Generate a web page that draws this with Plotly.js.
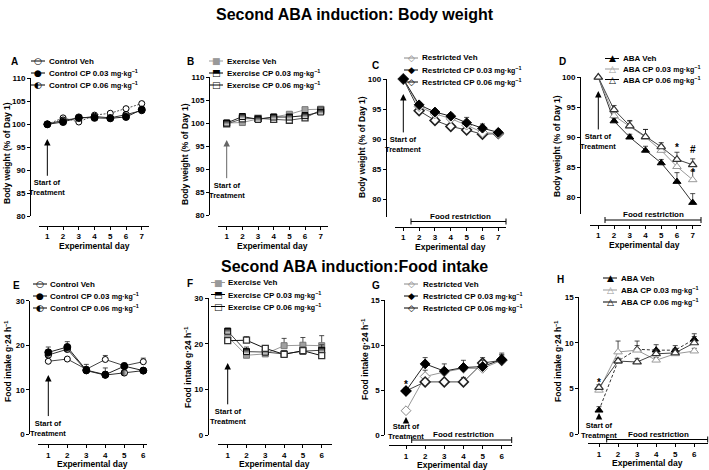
<!DOCTYPE html>
<html><head><meta charset="utf-8">
<script src="https://cdn.plot.ly/plotly-3.0.1.min.js"></script>
<style>html,body{margin:0;padding:0;background:#fff}</style>
</head><body>
<div id="chart" style="width:709px;height:470px"></div>
<script>
// ---------------- DATA ----------------
const daysBW = [1, 2, 3, 4, 5, 6, 7];
const daysFI = [1, 2, 3, 4, 5, 6];
const bwTicksAB = [80, 85, 90, 95, 100, 105, 110];
const bwTicksCD = [80, 85, 90, 95, 100];
const fiTicksEF = [0, 10, 20, 30];
const fiTicksGH = [0, 5, 10, 15];

// Body weight (% of Day 1)
const ctrlVeh    = [100, 101.4, 100.5, 102.0, 102.4, 103.4, 104.5];
const ctrlCP003  = [100, 100.5, 101.5, 101.4, 101.3, 101.6, 103.2];
const ctrlCP006  = [100, 100.9, 101.3, 101.7, 101.4, 102.1, 103.0];
const ctrlVehE   = [0, 0.3, 0.3, 0.3, 0.3, 0.3, 0.4];
const ctrlCP003E = [0, 0.3, 0.3, 0.3, 0.3, 0.3, 0.4];
const ctrlCP006E = [0, 0.3, 0.3, 0.3, 0.3, 0.3, 0.3];

const exVeh      = [100, 100.1, 100.9, 101.3, 101.9, 102.9, 103.0];
const exCP003    = [100, 101.4, 100.8, 101.3, 101.3, 101.6, 102.4];
const exCP006    = [99.8, 100.9, 101.0, 100.8, 100.6, 101.1, 102.8];
const exVehE     = [0, 0.3, 0.3, 0.3, 0.4, 0.4, 0.4];
const exCP003E   = [0, 0.3, 0.3, 0.3, 0.3, 0.3, 0.3];
const exCP006E   = [0, 0.3, 0.3, 0.3, 0.3, 0.3, 0.3];

const resVeh     = [100, 95.4, 94.2, 93.4, 92.3, 91.1, 90.9];
const resCP003   = [100, 95.7, 94.5, 93.8, 92.7, 91.8, 91.1];
const resCP006   = [100, 94.7, 93.1, 92.1, 91.5, 90.8, 90.9];
const resVehE    = [0, 0.3, 0.3, 0.3, 0.5, 0.5, 0.4];
const resCP003E  = [0, 0.3, 0.3, 0.4, 0.9, 0.7, 0.5];
const resCP006E  = [0, 0.3, 0.3, 0.3, 0.3, 0.3, 0.3];

const abaVeh     = [100, 92.7, 90.0, 87.8, 85.7, 82.6, 79.1];
const abaCP003   = [100, 93.6, 91.8, 90.0, 87.8, 85.1, 82.9];
const abaCP006   = [100, 94.6, 91.9, 90.1, 88.4, 86.3, 85.4];
const abaVehE    = [0, 0.4, 0.5, 0.7, 0.6, 1.5, 1.5];
const abaCP003E  = [0, 0.6, 0.9, 1.3, 0.8, 1.3, 1.5];
const abaCP006E  = [0, 0.7, 0.9, 1.2, 0.7, 1.2, 1.0];

// Food intake g·24 h-1
const fCtrlVeh    = [16.4, 16.9, 14.6, 16.8, 15.4, 16.3];
const fCtrlCP003  = [18.4, 19.6, 14.4, 13.4, 15.3, 14.3];
const fCtrlCP006  = [17.8, 19.1, 14.3, 13.3, 13.8, 14.3];
const fCtrlVehE   = [0.3, 0.3, 0.6, 0.9, 0.6, 0.8];
const fCtrlCP003E = [1.2, 1.2, 1.3, 1.5, 0.6, 0.5];
const fCtrlCP006E = [0.8, 0.9, 0.6, 0.8, 0.5, 0.5];

const fExVeh      = [21.6, 17.5, 17.8, 19.6, 19.7, 19.6];
const fExCP003    = [22.8, 18.3, 18.2, 17.8, 18.4, 18.6];
const fExCP006    = [20.7, 20.8, 19.0, 17.7, 18.5, 17.4];
const fExVehE     = [0.8, 0.7, 0.6, 1.6, 1.7, 2.2];
const fExCP003E   = [0.6, 1.0, 1.4, 0.6, 0.9, 1.2];
const fExCP006E   = [0.6, 0.8, 0.6, 0.4, 0.6, 0.6];

const fResVeh     = [2.7, 6.5, 7.0, 7.4, 7.4, 8.3];
const fResCP003   = [4.9, 7.9, 7.1, 7.5, 7.6, 8.4];
const fResCP006   = [4.9, 5.9, 5.9, 5.9, 8.0, 8.3];
const fResVehE    = [0.2, 0.7, 0.3, 0.4, 0.5, 0.6];
const fResCP003E  = [0.3, 0.7, 0.8, 0.8, 0.7, 0.7];
const fResCP006E  = [0.3, 0.3, 0.3, 0.5, 0.6, 0.6];

const fAbaVeh     = [2.6, 8.0, 9.3, 9.2, 9.2, 10.4];
const fAbaCP003   = [4.8, 9.0, 9.2, 8.1, 8.8, 9.1];
const fAbaCP006   = [5.1, 8.0, 7.9, 8.8, 8.9, 10.0];
const fAbaVehE    = [0.4, 0.3, 0.4, 0.6, 0.5, 0.6];
const fAbaCP003E  = [0.3, 1.2, 1.0, 0.3, 0.5, 0.3];
const fAbaCP006E  = [0.3, 0.3, 0.4, 0.5, 0.5, 0.7];

// Text
const SUP = '<span style="font-size:5.5px;baseline-shift:super">−1</span>';
const title1 = 'Second ABA induction: Body weight';
const title2 = 'Second ABA induction:Food intake';
const bwTitle = 'Body weight (% of Day 1)';
const fiTitle = 'Food intake g·24 h' + SUP;
const xTitle = 'Experimental day';
const unit = 'mg·kg' + SUP;
const startText = 'Start of<br>Treatment';
const frText = 'Food restriction';
const legA = ['Control Veh', 'Control CP 0.03', 'Control CP 0.06'];
const legB = ['Exercise Veh', 'Exercise CP 0.03', 'Exercise CP 0.06'];
const legC = ['Restricted Veh', 'Restricted CP 0.03', 'Restricted CP 0.06'];
const legD = ['ABA Veh', 'ABA CP 0.03', 'ABA CP 0.06'];

// ---------------- LAYOUT HELPERS ----------------
const W = 709, H = 470;
const fx = p => p / W;
const fy = p => 1 - p / H;
const FONT = "'Liberation Sans', Arial, sans-serif";
const SYMF = "'DejaVu Sans', sans-serif";

const M = {
  openCircle: {symbol: 'circle', size: 6, color: '#fff', line: {color: '#000', width: 1}},
  fillCircle: {symbol: 'circle', size: 7, color: '#000', line: {color: '#000', width: 1}},
  halfCircle: {symbol: 'circle', size: 6.5, color: '#000', gradient: {type: 'horizontal', color: '#fff'}, line: {color: '#000', width: 1}},
  greySquare: {symbol: 'square', size: 6, color: '#a0a0a0', line: {color: '#777', width: 1}},
  halfSquare: {symbol: 'square', size: 6, color: '#000', gradient: {type: 'vertical', color: '#fff'}, line: {color: '#000', width: 1}},
  openSquare: {symbol: 'square', size: 6, color: '#fff', line: {color: '#333', width: 1.3}},
  greyDiamond: {symbol: 'diamond', size: 7.5, color: '#fff', line: {color: '#888', width: 1}},
  fillDiamond: {symbol: 'diamond', size: 7.5, color: '#000', line: {color: '#000', width: 1}},
  openDiamond: {symbol: 'diamond', size: 7.5, color: '#fff', line: {color: '#222', width: 1.6}},
  fillTri: {symbol: 'triangle-up', size: 7, color: '#000', line: {color: '#000', width: 1}},
  greyTri: {symbol: 'triangle-up', size: 7.5, color: '#fff', line: {color: '#999', width: 1}},
  openTri: {symbol: 'triangle-up', size: 7.5, color: '#fff', line: {color: '#333', width: 1.2}}
};

// panel geometry (pixels)
const panels = [
  {n: '',  xDom: [39, 149],      xRange: [0.47, 7.46],   xLineY: 225.7, yLineX: 30,    yDom: [78.3, 216.3], yRange: [80, 110],   yTicks: bwTicksAB, xTicks: daysBW},
  {n: '2', xDom: [218, 328],     xRange: [0.445, 7.466], xLineY: 225.7, yLineX: 209,   yDom: [77, 215],     yRange: [80, 110],   yTicks: bwTicksAB, xTicks: daysBW},
  {n: '3', xDom: [395, 506],     xRange: [0.476, 7.486], xLineY: 226.7, yLineX: 385.7, yDom: [79, 217],     yRange: [77, 100],   yTicks: bwTicksCD, xTicks: daysBW},
  {n: '4', xDom: [590, 701],     xRange: [0.472, 7.528], xLineY: 224.7, yLineX: 580,   yDom: [77.3, 214],   yRange: [77.2, 100], yTicks: bwTicksCD, xTicks: daysBW},
  {n: '5', xDom: [38, 147],      xRange: [0.458, 6.195], xLineY: 444.3, yLineX: 29.3,  yDom: [300.7, 434.3], yRange: [0, 30],   yTicks: fiTicksEF, xTicks: daysFI},
  {n: '6', xDom: [217.7, 331.7], xRange: [0.468, 6.532], xLineY: 444,   yLineX: 207.7, yDom: [298.3, 435],  yRange: [0, 30],     yTicks: fiTicksEF, xTicks: daysFI},
  {n: '7', xDom: [389, 511.7],   xRange: [0.112, 6.52],  xLineY: 445,   yLineX: 384.3, yDom: [300, 435],    yRange: [0, 15],     yTicks: fiTicksGH, xTicks: daysFI},
  {n: '8', xDom: [588, 708],     xRange: [0.423, 6.72],  xLineY: 443.3, yLineX: 578.3, yDom: [297.3, 434],  yRange: [0, 15],     yTicks: fiTicksGH, xTicks: daysFI}
];

const layout = {
  width: W, height: H,
  margin: {l: 0, r: 0, t: 0, b: 0},
  paper_bgcolor: '#fff', plot_bgcolor: 'rgba(0,0,0,0)',
  showlegend: false,
  annotations: [], shapes: []
};

const tickFont = {family: FONT, size: 8, color: '#000', weight: 'bold'};
panels.forEach(p => {
  layout['xaxis' + p.n] = {
    domain: [fx(p.xDom[0]), fx(p.xDom[1])], range: p.xRange, anchor: 'free', position: fy(p.xLineY),
    showline: true, linecolor: '#000', linewidth: 1, ticks: 'outside', ticklen: 3, tickwidth: 1, tickcolor: '#000',
    tickmode: 'array', tickvals: p.xTicks, showgrid: false, zeroline: false, tickfont: tickFont, fixedrange: true
  };
  layout['yaxis' + p.n] = {
    domain: [fy(p.yDom[1]), fy(p.yDom[0])], range: p.yRange, anchor: 'free', position: fx(p.yLineX),
    showline: true, linecolor: '#000', linewidth: 1, ticks: 'outside', ticklen: 3, tickwidth: 1, tickcolor: '#000',
    tickmode: 'array', tickvals: p.yTicks, showgrid: false, zeroline: false, tickfont: tickFont, fixedrange: true
  };
});

// ---------------- TRACES ----------------
const traces = [];
function addSeries(n, x, y, e, marker, lineColor, dash) {
  traces.push({
    type: 'scatter', mode: 'lines+markers', x: x, y: y,
    xaxis: 'x' + n, yaxis: 'y' + n, cliponaxis: false, hoverinfo: 'skip',
    line: {color: lineColor, width: 1, dash: dash || 'solid'},
    marker: marker,
    error_y: {type: 'data', array: e, arrayminus: [], symmetric: false, color: '#222', thickness: 0.8, width: 2.5}
  });
}
addSeries('', daysBW, ctrlVeh, ctrlVehE, M.openCircle, '#555', '2px,1.5px');
addSeries('', daysBW, ctrlCP006, ctrlCP006E, M.halfCircle, '#333');
addSeries('', daysBW, ctrlCP003, ctrlCP003E, M.fillCircle, '#222');
addSeries('2', daysBW, exVeh, exVehE, M.greySquare, '#999');
addSeries('2', daysBW, exCP006, exCP006E, M.openSquare, '#555');
addSeries('2', daysBW, exCP003, exCP003E, M.halfSquare, '#222');
addSeries('3', daysBW, resCP006, resCP006E, M.openDiamond, '#444');
addSeries('3', daysBW, resVeh, resVehE, M.greyDiamond, '#999');
addSeries('3', daysBW, resCP003, resCP003E, M.fillDiamond, '#222');
addSeries('4', daysBW, abaVeh, abaVehE, M.fillTri, '#333');
addSeries('4', daysBW, abaCP003, abaCP003E, M.greyTri, '#999');
addSeries('4', daysBW, abaCP006, abaCP006E, M.openTri, '#444');
addSeries('5', daysFI, fCtrlVeh, fCtrlVehE, M.openCircle, '#444');
addSeries('5', daysFI, fCtrlCP006, fCtrlCP006E, M.halfCircle, '#333');
addSeries('5', daysFI, fCtrlCP003, fCtrlCP003E, M.fillCircle, '#222');
addSeries('6', daysFI, fExVeh, fExVehE, M.greySquare, '#999');
addSeries('6', daysFI, fExCP003, fExCP003E, M.halfSquare, '#444');
addSeries('6', daysFI, fExCP006, fExCP006E, M.openSquare, '#111');
addSeries('7', daysFI, fResVeh, fResVehE, M.greyDiamond, '#999');
addSeries('7', daysFI, fResCP006, fResCP006E, M.openDiamond, '#444');
addSeries('7', daysFI, fResCP003, fResCP003E, M.fillDiamond, '#222');
addSeries('8', daysFI, fAbaVeh, fAbaVehE, M.fillTri, '#333', '3px,2px');
addSeries('8', daysFI, fAbaCP003, fAbaCP003E, M.greyTri, '#999');
addSeries('8', daysFI, fAbaCP006, fAbaCP006E, M.openTri, '#444');

// ---------------- ANNOTATIONS ----------------
const A = layout.annotations, S = layout.shapes;
function txt(text, x, y, size, opts) {
  A.push(Object.assign({
    text: text, x: fx(x), y: fy(y), xref: 'paper', yref: 'paper', showarrow: false,
    xanchor: 'center', yanchor: 'middle', font: {family: FONT, size: size, color: '#000', weight: 'bold'}
  }, opts || {}));
}
txt(title1, 354.5, 14, 16);
txt(title2, 354.5, 266, 16);

[['A', 15, 62], ['B', 190, 62], ['C', 376, 65], ['D', 562, 61],
 ['E', 16, 285], ['F', 190, 283], ['G', 376, 285], ['H', 560, 279]].forEach(l => txt(l[0], l[1], l[2], 10));

[[bwTitle, 7, 153], [bwTitle, 185, 154], [bwTitle, 362, 147], [bwTitle, 557, 146],
 [fiTitle, 8, 362], [fiTitle, 188, 367], [fiTitle, 365, 360], [fiTitle, 558, 362]]
  .forEach(t => txt(t[0], t[1], t[2], 8.5, {textangle: -90}));

panels.forEach((p, i) => {
  const cx = [94.5, 272.5, 450, 644.5, 92.5, 274, 452, 647][i];
  txt(xTitle, cx, p.xLineY + 20, 8.5);
});

// start-of-treatment labels with arrows (data coords of each panel)
[['', 96.8, 86.2, '#000'], ['2', 96.3, 85.4, '#666'], ['3', 97.5, 89.1, '#000'], ['4', 97.7, 89.3, '#000'],
 ['5', 13.3, 1.4, '#000'], ['6', 15.8, 4.1, '#000'], ['7', 2.0, 0.36, '#000'], ['8', 2.3, 0.4, '#000']].forEach(a => {
  A.push({text: startText, x: 1, y: a[1], ax: 1, ay: a[2], xref: 'x' + a[0], yref: 'y' + a[0], axref: 'x' + a[0], ayref: 'y' + a[0],
    showarrow: true, arrowhead: 2, arrowsize: 1.3, arrowwidth: 1, arrowcolor: a[3], standoff: 0, startstandoff: 1,
    font: {family: FONT, size: 7.5, color: '#000', weight: 'bold'}});
});

function mark(n, x, y, t) {
  A.push({text: t, x: x, y: y, xref: 'x' + n, yref: 'y' + n, showarrow: false, xanchor: 'center', yanchor: 'middle',
    font: {family: FONT, size: 10, color: '#000', weight: 'bold'}});
}
mark('4', 6, 88.3, '*');
mark('4', 7, 87.9, '#');
mark('4', 7, 84.1, '*');
mark('7', 1, 5.6, '*');
mark('8', 1, 5.6, '*');

function bracket(x0, x1, y, lx, ly) {
  S.push({type: 'line', xref: 'paper', yref: 'paper', x0: fx(x0), x1: fx(x1), y0: fy(y), y1: fy(y), line: {color: '#000', width: 1}});
  [x0, x1].forEach(xx => S.push({type: 'line', xref: 'paper', yref: 'paper', x0: fx(xx), x1: fx(xx), y0: fy(y - 3), y1: fy(y + 3), line: {color: '#000', width: 1}}));
  txt(frText, lx, ly, 8);
}
bracket(411, 506, 221.5, 460, 216);
bracket(605, 701, 220, 653, 214.5);
bracket(411.7, 511.7, 440, 463, 434.5);
bracket(606.7, 707.7, 439.5, 658, 434);

function legend(labels, glyphs, symX, textX, rows) {
  labels.forEach((lab, i) => {
    const g = glyphs[i];
    S.push({type: 'line', xref: 'paper', yref: 'paper', x0: fx(symX - 7), x1: fx(symX + 7), y0: fy(rows[i]), y1: fy(rows[i]),
      line: {color: g[1], width: 1}});
    A.push({text: g[0], x: fx(symX), y: fy(rows[i]), xref: 'paper', yref: 'paper', showarrow: false, xanchor: 'center', yanchor: 'middle',
      font: {family: SYMF, size: 9, color: g[1]}});
    const t = i === 0 ? lab : lab + ' <span style="font-size:7px">' + unit + '</span>';
    txt(t, textX, rows[i], 8, {xanchor: 'left'});
  });
}
const gA = [['○', '#000'], ['●', '#000'], ['◐', '#000']];
const gB = [['■', '#999'], ['⬒', '#000'], ['□', '#000']];
const gC = [['◇', '#888'], ['◆', '#000'], ['◇', '#000']];
const gD = [['▲', '#000'], ['△', '#999'], ['△', '#000']];
legend(legA, gA, 38, 47, [61, 73, 85]);
legend(legB, gB, 216, 225, [61, 73, 85]);
legend(legC, gC, 411, 420, [58, 70, 82]);
legend(legD, gD, 612, 621, [58.5, 69, 79.5]);
legend(legA, gA, 40, 48, [284, 296, 308]);
legend(legB, gB, 218, 226, [282.5, 294.5, 306.5]);
legend(legC, gC, 411, 421, [284, 296, 308]);
legend(legD, gD, 610, 619, [278, 290, 302]);

Plotly.newPlot('chart', traces, layout, {displayModeBar: false, staticPlot: true});
</script>
</body></html>
